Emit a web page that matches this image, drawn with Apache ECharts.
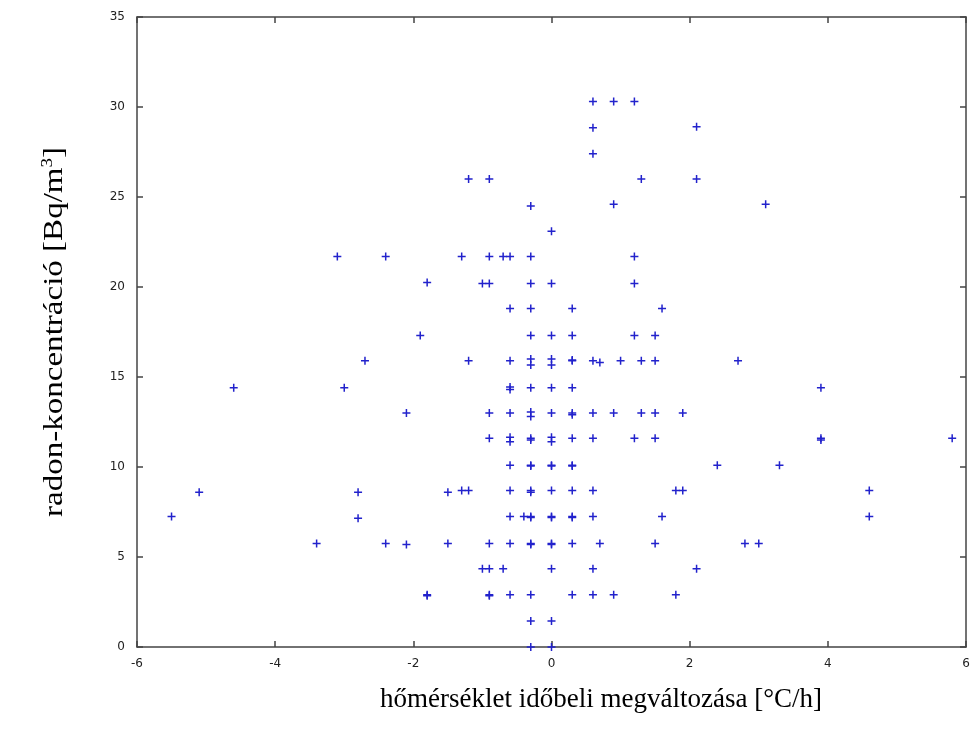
<!DOCTYPE html>
<html>
<head>
<meta charset="utf-8">
<script src="https://cdn.jsdelivr.net/npm/echarts@6/dist/echarts.min.js"></script>
<style>html,body{margin:0;padding:0;background:#fff;}#c{width:979px;height:730px;}</style>
</head>
<body>
<div id="c"></div>
<script>
var xTicks = [-6, -4, -2, 0, 2, 4, 6];
var yTicks = [0, 5, 10, 15, 20, 25, 30, 35];
var xTitle = 'hőmérséklet időbeli megváltozása [°C/h]';
var yTitle = 'radon-koncentráció [Bq/m';
var dT = [0.6,0.9,1.2,0.6,2.1,0.6,-1.2,-0.9,1.3,2.1,-0.3,0.9,3.1,0.0,-3.1,-2.4,-1.3,-0.9,-0.7,-0.6,-0.3,1.2,-1.8,-1.0,-0.9,-0.3,0.0,1.2,-0.6,-0.3,0.3,1.6,-1.9,-0.3,0.0,0.3,1.2,1.5,-2.7,-1.2,-0.6,-0.3,-0.3,0.0,0.0,0.3,0.3,0.6,0.7,1.0,1.3,1.5,2.7,-4.6,-3.0,-0.6,-0.6,-0.3,0.0,0.3,3.9,-2.1,-0.9,-0.6,-0.3,-0.3,0.0,0.3,0.3,0.6,0.9,1.3,1.5,1.9,-0.9,-0.6,-0.6,-0.3,-0.3,0.0,0.0,0.3,0.6,1.2,1.5,3.9,3.9,5.8,-0.6,-0.3,-0.3,0.0,0.0,0.3,0.3,2.4,3.3,-1.5,-1.3,-1.2,-0.6,-0.3,-0.3,0.0,0.3,0.6,1.8,1.9,4.6,-5.1,-2.8,-5.5,-2.8,-0.6,-0.4,-0.3,-0.3,0.0,0.0,0.3,0.3,0.6,1.6,4.6,-3.4,-2.4,-2.1,-1.5,-0.9,-0.6,-0.3,-0.3,0.0,0.0,0.3,0.7,1.5,2.8,3.0,-1.0,-0.9,-0.7,0.0,0.6,2.1,-1.8,-1.8,-0.9,-0.9,-0.6,-0.3,0.3,0.6,0.9,1.8,-0.3,0.0,-0.3,0.0];
var radon = [30.3,30.3,30.3,28.85,28.9,27.4,26.0,26.0,26.0,26.0,24.5,24.6,24.6,23.1,21.7,21.7,21.7,21.7,21.7,21.7,21.7,21.7,20.25,20.2,20.2,20.2,20.2,20.2,18.8,18.8,18.8,18.8,17.3,17.3,17.3,17.3,17.3,17.3,15.9,15.9,15.9,16.0,15.67,16.0,15.67,15.9,15.95,15.9,15.8,15.9,15.9,15.9,15.9,14.4,14.4,14.45,14.3,14.4,14.4,14.4,14.4,13.0,13.0,13.0,13.05,12.8,13.0,13.0,12.9,13.0,13.0,13.0,13.0,13.0,11.6,11.65,11.4,11.6,11.5,11.65,11.4,11.6,11.6,11.6,11.6,11.6,11.5,11.6,10.1,10.1,10.05,10.1,10.05,10.1,10.05,10.1,10.1,8.6,8.7,8.7,8.7,8.7,8.6,8.7,8.7,8.7,8.7,8.7,8.7,8.6,8.6,7.25,7.15,7.25,7.25,7.25,7.2,7.2,7.25,7.2,7.25,7.25,7.25,7.25,5.75,5.75,5.7,5.75,5.75,5.75,5.75,5.7,5.75,5.7,5.75,5.75,5.75,5.75,5.75,4.35,4.35,4.35,4.35,4.35,4.35,2.9,2.85,2.9,2.85,2.9,2.9,2.9,2.9,2.9,2.9,1.45,1.45,0,0];

var pts = dT.map(function(v, i){ return [v, radon[i]]; });
var chart = echarts.init(document.getElementById('c'));
var tickFont = {fontFamily: 'DejaVu Sans', fontSize: 12, color: '#222'};
var lineStyle = {color: '#444', width: 1.5};
function xax(pos, lbl){
  return {type:'value', position: pos, min: xTicks[0], max: xTicks[xTicks.length-1], interval: 2,
    axisLine:{show:true, onZero:false, lineStyle: lineStyle},
    axisTick:{show:true, inside:true, length:6, lineStyle: lineStyle},
    axisLabel: Object.assign({show: lbl, margin: 11}, tickFont),
    splitLine:{show:false}};
}
function yax(pos, lbl){
  return {type:'value', position: pos, min: yTicks[0], max: yTicks[yTicks.length-1], interval: 5,
    axisLine:{show:true, onZero:false, lineStyle: lineStyle},
    axisTick:{show:true, inside:true, length:6, lineStyle: lineStyle},
    axisLabel: Object.assign({show: lbl, margin: 12}, tickFont),
    splitLine:{show:false}};
}
chart.setOption({
  animation: false,
  backgroundColor: '#fff',
  grid: {left: 137, right: 13, top: 17, bottom: 83},
  xAxis: [xax('bottom', true), xax('top', false)],
  yAxis: [yax('left', true), yax('right', false)],
  graphic: [
    {type:'text', x: 601, y: 700, style:{text: xTitle, font: '27px "Liberation Serif"', fill:'#000', align:'center', verticalAlign:'middle'}},
    {type:'text', rotation: Math.PI/2, x: 55, y: 332, scaleX: 1.18, scaleY: 1, style:{
      text: '{a|' + yTitle + '}{s|3}{a|]}', align:'center', verticalAlign:'middle',
      rich: {a:{font:'28px "Liberation Serif"', fill:'#000'}, s:{font:'16px "Liberation Serif"', fill:'#000', padding:[0,0,14,0]}}
    }}
  ],
  series: [{
    type: 'scatter',
    data: pts,
    symbol: 'path://M3.25,0 L4.75,0 L4.75,3.25 L8,3.25 L8,4.75 L4.75,4.75 L4.75,8 L3.25,8 L3.25,4.75 L0,4.75 L0,3.25 L3.25,3.25 Z',
    symbolSize: 8,
    itemStyle: {color: '#2222cc', opacity: 1},
    clip: false
  }]
});
</script>
</body>
</html>
